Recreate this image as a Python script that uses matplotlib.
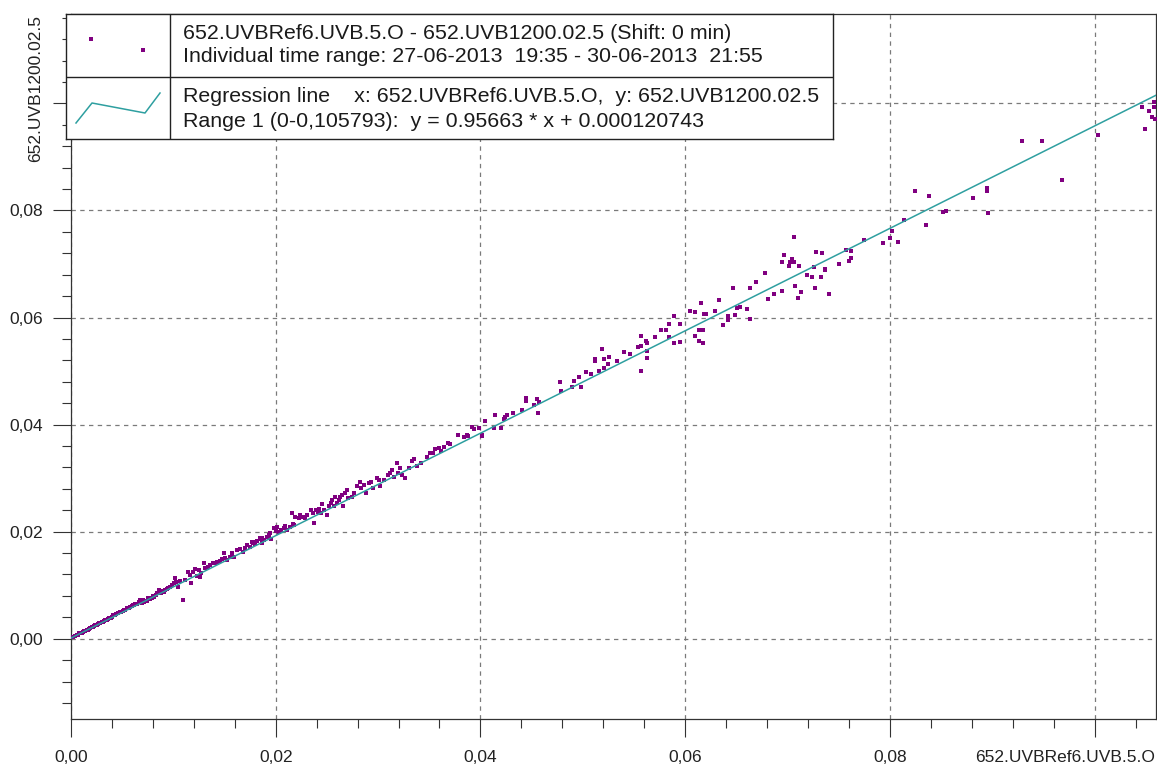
import numpy as np
import matplotlib.pyplot as plt
from matplotlib.ticker import MultipleLocator, FixedLocator

plt.rcParams['font.family'] = ['Liberation Sans', 'DejaVu Sans']

# 652.UVBRef6.UVB.5.O (x) against 652.UVB1200.02.5 (y), 27-06-2013 .. 30-06-2013
x_ref = [
    0.00023, 0.00035, 0.00055, 0.00068, 0.00082, 0.00104, 0.00115, 0.00127, 0.00140, 0.00153,
    0.00165, 0.00179, 0.00190, 0.00202, 0.00215, 0.00225, 0.00238, 0.00251, 0.00262, 0.00277,
    0.00288, 0.00300, 0.00312, 0.00323, 0.00336, 0.00349, 0.00362, 0.00375, 0.00388, 0.00398,
    0.00414, 0.00430, 0.00441, 0.00463, 0.00475, 0.00486, 0.00512, 0.00520, 0.00529, 0.00551,
    0.00565, 0.00578, 0.00594, 0.00605, 0.00617, 0.00630, 0.00643, 0.00660, 0.00675, 0.00692,
    0.00705, 0.00715, 0.00741, 0.00755, 0.00767, 0.00790, 0.00800, 0.00813, 0.00832, 0.00845,
    0.00855, 0.00878, 0.00890, 0.00904, 0.00920, 0.00937, 0.00950, 0.00963, 0.00986, 0.01008,
    0.01018, 0.01028, 0.01041, 0.01067, 0.01093, 0.01116, 0.01139, 0.01158, 0.01172, 0.01191,
    0.01214, 0.01230, 0.01247, 0.01256, 0.01269, 0.01296, 0.01312, 0.01335, 0.01361, 0.01387,
    0.01410, 0.01426, 0.01452, 0.01475, 0.01498, 0.01508, 0.01524, 0.01550, 0.01573, 0.01596,
    0.01622, 0.01654, 0.01681, 0.01703, 0.01720, 0.01752, 0.01778, 0.01801, 0.01818, 0.01844,
    0.01867, 0.01889, 0.01915, 0.01941,
    0.0177, 0.0180, 0.0185, 0.0188, 0.0187, 0.0193, 0.0195, 0.0198, 0.0200, 0.0201,
    0.0203, 0.0205, 0.0208, 0.0209, 0.0211, 0.0214, 0.0216, 0.0217, 0.0218, 0.0219,
    0.0223, 0.0224, 0.0227, 0.0229, 0.0231, 0.0234, 0.0236, 0.0237, 0.0239, 0.0241,
    0.0242, 0.0244, 0.0245, 0.0247, 0.0250, 0.0252, 0.0254, 0.0255, 0.0257, 0.0258,
    0.0260, 0.0262, 0.0263, 0.0265, 0.0266, 0.0268, 0.0270, 0.0271, 0.0275, 0.0276,
    0.0279, 0.0282, 0.0283, 0.0286, 0.0288, 0.0291, 0.0293, 0.0295, 0.0299, 0.0301,
    0.0302, 0.0306, 0.0310, 0.0312, 0.0314, 0.0316, 0.0318, 0.0319, 0.0321, 0.0323,
    0.0326, 0.0330, 0.0333, 0.0335, 0.0338, 0.0342, 0.0348, 0.0351, 0.0354, 0.0356,
    0.0360, 0.0361, 0.0364, 0.0368, 0.0370,
    0.0378, 0.0384, 0.0387, 0.0388, 0.0392, 0.0394, 0.0399, 0.0402, 0.0402, 0.0404,
    0.0413, 0.0414, 0.0420, 0.0423, 0.0424, 0.0426, 0.0432, 0.0441, 0.0445, 0.0445,
    0.0452, 0.0455, 0.0456, 0.0457, 0.0478, 0.0479,
    0.0489, 0.0491, 0.0496, 0.0498, 0.0503, 0.0508, 0.0512, 0.0512, 0.0516, 0.0519,
    0.0521, 0.0521, 0.0525, 0.0526, 0.0533, 0.0540, 0.0546, 0.0554, 0.0557, 0.0557,
    0.0557, 0.0562, 0.0563, 0.0563, 0.0563, 0.0571, 0.0576, 0.0581, 0.0584, 0.0584,
    0.0589, 0.0589, 0.0595, 0.0595, 0.0605, 0.0610, 0.0615, 0.0618, 0.0620, 0.0614,
    0.0617, 0.0610, 0.0614, 0.0617, 0.0629, 0.0633, 0.0637, 0.0642, 0.0642, 0.0647,
    0.0649, 0.0651, 0.0654, 0.0660, 0.0663, 0.0663, 0.0669, 0.0678, 0.0681, 0.0687,
    0.0697, 0.0695, 0.0706, 0.0704, 0.0702, 0.0706, 0.0701, 0.0711, 0.0728, 0.0734,
    0.0726, 0.0719, 0.0724, 0.0737, 0.0737, 0.0733, 0.0707, 0.0727, 0.0713, 0.0710,
    0.0695, 0.0741, 0.0750, 0.0757, 0.0762, 0.0762, 0.0760, 0.0775, 0.0793, 0.0800,
    0.0802, 0.0808, 0.0814, 0.0825, 0.0838, 0.0835, 0.0852, 0.0855,
    0.0881, 0.0895, 0.0895, 0.0896, 0.0929, 0.0949, 0.0968, 0.1003, 0.1046, 0.1049,
    0.1053, 0.1056, 0.1058, 0.1058, 0.1059,
]
y_uvb = [
    0.00037, 0.00050, 0.00069, 0.00078, 0.00101, 0.00112, 0.00118, 0.00144, 0.00150, 0.00163,
    0.00170, 0.00187, 0.00205, 0.00213, 0.00220, 0.00237, 0.00250, 0.00256, 0.00272, 0.00288,
    0.00295, 0.00307, 0.00318, 0.00325, 0.00345, 0.00350, 0.00370, 0.00381, 0.00395, 0.00411,
    0.00443, 0.00440, 0.00462, 0.00475, 0.00490, 0.00499, 0.00518, 0.00530, 0.00536, 0.00568,
    0.00575, 0.00598, 0.00611, 0.00625, 0.00630, 0.00650, 0.00649, 0.00680, 0.00723, 0.00662,
    0.00720, 0.00692, 0.00710, 0.00760, 0.00736, 0.00755, 0.00800, 0.00785, 0.00817, 0.00850,
    0.00910, 0.00849, 0.00890, 0.00879, 0.00905, 0.00923, 0.00950, 0.00961, 0.01004, 0.01036,
    0.01129, 0.01065, 0.00972, 0.01084, 0.00723, 0.01097, 0.01252, 0.01191, 0.01036, 0.01252,
    0.01297, 0.01172, 0.01284, 0.01159, 0.01222, 0.01421, 0.01316, 0.01346, 0.01378, 0.01409,
    0.01421, 0.01439, 0.01458, 0.01484, 0.01596, 0.01503, 0.01471, 0.01521, 0.01596, 0.01521,
    0.01658, 0.01671, 0.01626, 0.01690, 0.01751, 0.01720, 0.01783, 0.01813, 0.01832, 0.01858,
    0.01877, 0.01845, 0.01907, 0.01970,
    0.0181, 0.0177, 0.0188, 0.0184, 0.0179, 0.0194, 0.0186, 0.0206, 0.0202, 0.0208,
    0.0200, 0.0204, 0.0206, 0.0211, 0.0203, 0.0208, 0.0234, 0.0214, 0.0212, 0.0228,
    0.0225, 0.0231, 0.0228, 0.0225, 0.0231, 0.0241, 0.0234, 0.0216, 0.0241, 0.0237,
    0.0242, 0.0234, 0.0252, 0.0241, 0.0231, 0.0247, 0.0253, 0.0259, 0.0248, 0.0265,
    0.0253, 0.0259, 0.0265, 0.0269, 0.0248, 0.0272, 0.0278, 0.0262, 0.0265, 0.0272,
    0.0285, 0.0293, 0.0281, 0.0287, 0.0272, 0.0290, 0.0293, 0.0281, 0.0300, 0.0297,
    0.0285, 0.0297, 0.0306, 0.0309, 0.0315, 0.0303, 0.0328, 0.0309, 0.0318, 0.0306,
    0.0300, 0.0318, 0.0332, 0.0335, 0.0323, 0.0328, 0.0339, 0.0347, 0.0347, 0.0355,
    0.0356, 0.0350, 0.0359, 0.0365, 0.0364,
    0.0381, 0.0376, 0.0381, 0.0379, 0.0396, 0.0391, 0.0393, 0.0381, 0.0378, 0.0406,
    0.0394, 0.0418, 0.0394, 0.0411, 0.0415, 0.0418, 0.0422, 0.0427, 0.0449, 0.0444,
    0.0437, 0.0447, 0.0422, 0.0442, 0.0479, 0.0462,
    0.0471, 0.0481, 0.0489, 0.0471, 0.0498, 0.0495, 0.0523, 0.0518, 0.0500, 0.0542,
    0.0523, 0.0505, 0.0513, 0.0527, 0.0518, 0.0535, 0.0532, 0.0545, 0.0547, 0.0566,
    0.0500, 0.0556, 0.0552, 0.0537, 0.0525, 0.0564, 0.0576, 0.0576, 0.0588, 0.0563,
    0.0603, 0.0552, 0.0588, 0.0555, 0.0613, 0.0610, 0.0627, 0.0607, 0.0607, 0.0576,
    0.0576, 0.0566, 0.0557, 0.0552, 0.0613, 0.0632, 0.0586, 0.0603, 0.0596, 0.0656,
    0.0605, 0.0618, 0.0620, 0.0615, 0.0598, 0.0656, 0.0666, 0.0683, 0.0634, 0.0644,
    0.0717, 0.0703, 0.0751, 0.0710, 0.0703, 0.0703, 0.0697, 0.0697, 0.0722, 0.0720,
    0.0695, 0.0680, 0.0676, 0.0690, 0.0688, 0.0676, 0.0659, 0.0656, 0.0647, 0.0637,
    0.0649, 0.0644, 0.0700, 0.0727, 0.0725, 0.0712, 0.0705, 0.0744, 0.0739, 0.0749,
    0.0761, 0.0742, 0.0783, 0.0837, 0.0827, 0.0773, 0.0798, 0.0799,
    0.0824, 0.0842, 0.0837, 0.0795, 0.0930, 0.0930, 0.0856, 0.0941, 0.0993, 0.0953,
    0.0985, 0.0975, 0.1002, 0.0994, 0.0971,
]

# regression (range 1) as stated in the legend
slope = 0.95663
intercept = 0.000120743

x_ticks = [0.00, 0.02, 0.04, 0.06, 0.08, 0.10]
y_ticks = [0.00, 0.02, 0.04, 0.06, 0.08, 0.10]
x_name = '652.UVBRef6.UVB.5.O'
y_name = '652.UVB1200.02.5'

W, H = 1157, 764
fig = plt.figure(figsize=(W / 100, H / 100), dpi=100)
ax = fig.add_axes([71 / W, 45 / H, 1085 / W, 705 / H])

ax.plot(x_ref, y_uvb, 's', color='#800080', ms=2.4, mew=0, zorder=3)

xs = np.array([0.0, 0.1060])
ax.plot(xs, slope * xs + intercept, color='#2e9fa0', lw=1.1, zorder=4)

ax.set_xlim(0.0, 0.1060)
ax.set_ylim(-0.0150, 0.1167)

ax.xaxis.set_major_locator(FixedLocator(x_ticks))
ax.yaxis.set_major_locator(FixedLocator(y_ticks))
ax.xaxis.set_minor_locator(MultipleLocator(0.004))
ax.yaxis.set_minor_locator(MultipleLocator(0.004))
# the last major label on each axis gives way to the series name
ax.set_xticklabels([f'{v:.2f}'.replace('.', ',') for v in x_ticks[:-1]] + [''])
ax.set_yticklabels([f'{v:.2f}'.replace('.', ',') for v in y_ticks[:-1]] + [''])

ax.tick_params(which='major', length=13, width=0.8, color='#333333',
               labelsize=12.5, labelcolor='#222222')
ax.tick_params(which='minor', length=6.5, width=0.8, color='#333333')
ax.tick_params(axis='x', which='major', pad=9)
ax.tick_params(axis='y', which='major', pad=7)

ax.grid(True, which='major', color='#7a7a7a', lw=0.9, linestyle=(0, (3.5, 3.5)))
for s in ax.spines.values():
    s.set_color('#333333')
    s.set_linewidth(0.9)

fig.text(1155 / W, 2 / H, x_name, ha='right', va='baseline', fontsize=12.5, color='#222222')
fig.text(35.5 / W, 1 - 15 / H, y_name, ha='center', va='top', rotation=90,
         fontsize=12.5, color='#222222')

# legend table in pixel units of its own box
lg = fig.add_axes([66 / W, 1 - 139 / H, 767 / W, 125 / H])
lg.set_xlim(0, 767)
lg.set_ylim(125, 0)
lg.set_xticks([])
lg.set_yticks([])
lg.set_facecolor('white')
for s in lg.spines.values():
    s.set_color('#222222')
    s.set_linewidth(1.0)
lg.axvline(104, color='#222222', lw=1.0)
lg.axhline(63, color='#222222', lw=1.0)
lg.plot([25, 77], [25, 36], 's', color='#800080', ms=2.4, mew=0)
lg.plot([10, 26, 79, 94], [109, 89, 99, 79], color='#2e9fa0', lw=1.1)

txt = dict(fontsize=15.4, color='#1a1a1a', va='baseline', ha='left')
lg.text(117, 25, f'{x_name} - {y_name} (Shift: 0 min)', **txt)
lg.text(117, 48, 'Individual time range: 27-06-2013  19:35 - 30-06-2013  21:55', **txt)
lg.text(117, 88, f'Regression line    x: {x_name},  y: {y_name}', **txt)
lg.text(117, 113, f'Range 1 (0-0,105793):  y = {slope} * x + {intercept}', **txt)

fig.savefig('out.png', dpi=100)
